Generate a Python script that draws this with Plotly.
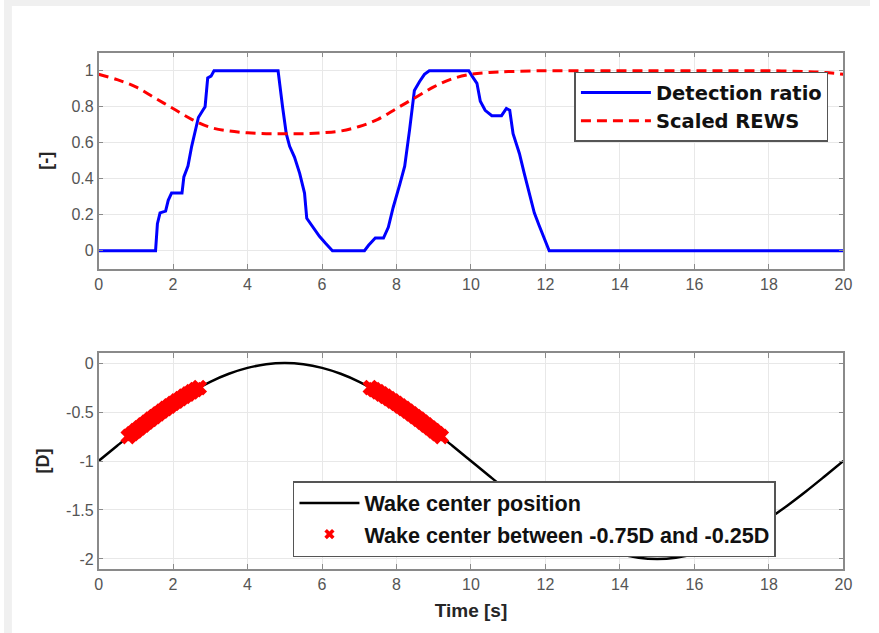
import plotly.graph_objects as go

# ---------------- data ----------------
det_t = [0, 1.53, 1.58, 1.65, 1.80, 1.87, 1.96, 2.24, 2.29, 2.40, 2.50, 2.60, 2.68, 2.80, 2.86,
         2.93, 3.02, 3.10, 4.82, 4.94, 5.04, 5.13, 5.26, 5.40, 5.53, 5.59, 5.75, 5.93, 6.10,
         6.28, 7.14, 7.25, 7.43, 7.65, 7.78, 7.91, 8.09, 8.22, 8.35, 8.48, 8.62, 8.75, 8.88,
         9.94, 10.03, 10.16, 10.25, 10.38, 10.56, 10.82, 10.95, 11.04, 11.13, 11.30, 11.43,
         11.57, 11.70, 11.83, 11.97, 12.10, 20]
det_v = [0, 0, 0.15, 0.21, 0.22, 0.28, 0.32, 0.32, 0.41, 0.47, 0.58, 0.66, 0.74, 0.78, 0.80,
         0.96, 0.97, 1.0, 1.0, 0.80, 0.65, 0.58, 0.52, 0.43, 0.32, 0.18, 0.13, 0.08, 0.04,
         0, 0, 0.03, 0.07, 0.07, 0.13, 0.24, 0.37, 0.47, 0.67, 0.89, 0.94, 0.98, 1.0,
         1.0, 0.97, 0.93, 0.83, 0.78, 0.75, 0.75, 0.79, 0.78, 0.65, 0.54, 0.43,
         0.32, 0.21, 0.14, 0.07, 0, 0]

rews_t = [0, 0.5, 1, 1.5, 2, 2.5, 3, 3.5, 4, 4.5, 5, 5.5, 6, 6.5, 7, 7.5, 8, 8.5, 9, 9.5,
          10, 10.5, 11, 12, 13, 14, 15, 16, 17, 18, 19, 19.5, 20]
rews_v = [0.98, 0.95, 0.91, 0.85, 0.79, 0.73, 0.685, 0.665, 0.655, 0.65, 0.65, 0.65, 0.655,
          0.665, 0.69, 0.73, 0.79, 0.85, 0.91, 0.955, 0.98, 0.99, 0.995, 1, 1, 1, 1, 1, 1,
          1, 0.995, 0.99, 0.98]

wake_t = [0, 0.5, 1, 1.5, 2, 2.5, 3, 3.5, 4, 4.5, 5, 5.5, 6, 6.5, 7, 7.5, 8, 8.5, 9, 9.5,
          10, 10.5, 11, 11.5, 12, 12.5, 13, 13.5, 14, 14.5, 15, 15.5, 16, 16.5, 17, 17.5,
          18, 18.5, 19, 19.5, 20]
wake_v = [-1, -0.844, -0.691, -0.546, -0.412, -0.293, -0.191, -0.109, -0.049, -0.012, 0,
          -0.012, -0.049, -0.109, -0.191, -0.293, -0.412, -0.546, -0.691, -0.844,
          -1, -1.156, -1.309, -1.454, -1.588, -1.707, -1.809, -1.891, -1.951, -1.988, -2,
          -1.988, -1.951, -1.891, -1.809, -1.707, -1.588, -1.454, -1.309, -1.156, -1]

sel_t = [0.8, 0.9, 1.0, 1.1, 1.2, 1.3, 1.4, 1.5, 1.6, 1.7, 1.8, 1.9, 2.0, 2.1, 2.2, 2.3,
         2.4, 2.5, 2.6, 2.7,
         7.3, 7.4, 7.5, 7.6, 7.7, 7.8, 7.9, 8.0, 8.1, 8.2, 8.3, 8.4, 8.5, 8.6, 8.7, 8.8,
         8.9, 9.0, 9.1, 9.2]
sel_v = [-0.75, -0.721, -0.691, -0.661, -0.632, -0.603, -0.574, -0.546, -0.518, -0.491,
         -0.464, -0.438, -0.412, -0.387, -0.363, -0.339, -0.316, -0.293, -0.271, -0.25,
         -0.25, -0.271, -0.293, -0.316, -0.339, -0.363, -0.387, -0.412, -0.438, -0.464,
         -0.491, -0.518, -0.546, -0.574, -0.603, -0.632, -0.661, -0.691, -0.721, -0.75]

x_ticks = [0, 2, 4, 6, 8, 10, 12, 14, 16, 18, 20]
y1_ticks = [0, 0.2, 0.4, 0.6, 0.8, 1]
y1_text = ["0", "0.2", "0.4", "0.6", "0.8", "1"]
y2_ticks = [0, -0.5, -1, -1.5, -2]
y2_text = ["0", "-0.5", "-1", "-1.5", "-2"]

# ---------------- figure ----------------
W, H = 879, 633
FONT = "Liberation Sans, Arial, sans-serif"
LFONT1 = "DejaVu Sans, Liberation Sans, Arial, sans-serif"
TICKC = "#555555"
FRAME = "#8a8a8a"
GRID = "#e8e8e8"

fig = go.Figure()
fig.add_trace(go.Scatter(x=det_t, y=det_v, mode="lines", name="Detection ratio",
                         line=dict(color="#0000ff", width=3), xaxis="x", yaxis="y",
                         legend="legend"))
fig.add_trace(go.Scatter(x=rews_t, y=rews_v, mode="lines", name="Scaled REWS",
                         line=dict(color="#ff0000", width=3, dash="10px,6px", shape="spline"),
                         xaxis="x", yaxis="y", legend="legend"))
fig.add_trace(go.Scatter(x=wake_t, y=wake_v, mode="lines", name="Wake center position",
                         line=dict(color="#000000", width=2.5, shape="spline"),
                         xaxis="x2", yaxis="y2", legend="legend2"))
fig.add_trace(go.Scatter(x=sel_t, y=sel_v, mode="markers",
                         name="Wake center between -0.75D and -0.25D", showlegend=False,
                         marker=dict(color="#ff0000", symbol="x", size=14, line=dict(width=0)),
                         xaxis="x2", yaxis="y2", legend="legend2"))
# legend entry for the markers (smaller symbol, as in the reference legend)
fig.add_trace(go.Scatter(x=[None], y=[None], mode="markers",
                         name="Wake center between -0.75D and -0.25D",
                         marker=dict(color="#ff0000", symbol="x", size=9, line=dict(width=0)),
                         xaxis="x2", yaxis="y2", legend="legend2"))

xd = [96 / W, 852 / W]
y1d = [1 - 268.7 / H, 1 - 52.7 / H]
y2d = [1 - 568.7 / H, 1 - 353.3 / H]

axis_common = dict(showline=True, linecolor=FRAME, linewidth=1.5, mirror="allticks",
                   ticks="inside", ticklen=5, tickwidth=1, tickcolor=FRAME,
                   showgrid=True, gridcolor=GRID, gridwidth=1, zeroline=False,
                   tickfont=dict(family=FONT, size=16, color=TICKC))

fig.update_layout(
    width=W, height=H, autosize=False,
    margin=dict(l=0, r=0, t=0, b=0),
    paper_bgcolor="white", plot_bgcolor="white",
    xaxis=dict(domain=xd, range=[0, 20], tickvals=x_ticks, anchor="y", **axis_common),
    yaxis=dict(domain=y1d, range=[-0.1, 1.1], tickvals=y1_ticks, ticktext=y1_text,
               anchor="x",
               title=dict(text="<b>[-]</b>", font=dict(family=FONT, size=18, color="#262626"),
                          standoff=14),
               **axis_common),
    xaxis2=dict(domain=xd, range=[0, 20], tickvals=x_ticks, anchor="y2",
                title=dict(text="<b>Time [s]</b>", font=dict(family=FONT, size=19, color="#262626"),
                           standoff=12),
                **axis_common),
    yaxis2=dict(domain=y2d, range=[-2.1, 0.1], tickvals=y2_ticks, ticktext=y2_text,
                anchor="x2",
                title=dict(text="<b>[D]</b>", font=dict(family=FONT, size=18, color="#262626"),
                           standoff=12),
                **axis_common),
    legend=dict(x=579 / W, y=1 - 71.7 / H, xanchor="left", yanchor="top",
                bgcolor="white", bordercolor="#555555", borderwidth=1.5,
                font=dict(family=LFONT1, size=19.5, color="#111111", weight="bold"),
                itemwidth=70, tracegroupgap=0),
    legend2=dict(x=293.3 / W, y=1 - 481 / H, xanchor="left", yanchor="top",
                 bgcolor="white", bordercolor="#555555", borderwidth=1.5,
                 font=dict(family=FONT, size=21.6, color="#111111", weight="bold"),
                 itemwidth=60, tracegroupgap=0),
    showlegend=True,
    shapes=[
        dict(type="rect", xref="paper", yref="paper", x0=0, x1=1, y0=1 - 6 / H, y1=1,
             fillcolor="#f0f0f0", line=dict(width=0), layer="below"),
        dict(type="rect", xref="paper", yref="paper", x0=0, x1=8 / W, y0=0, y1=1,
             fillcolor="#f0f0f0", line=dict(width=0), layer="below"),
    ],
)

post = ("document.documentElement.style.overflow='hidden';"
        "document.body.style.overflow='hidden';"
        "document.body.style.margin='0';")

fig.write_html("out.html", config={"responsive": False}, post_script=post)
